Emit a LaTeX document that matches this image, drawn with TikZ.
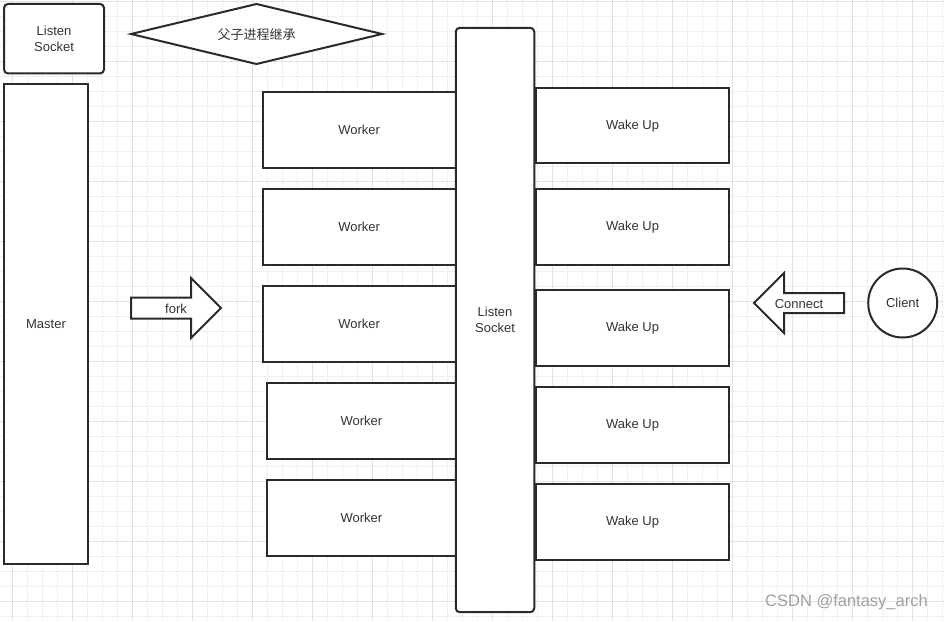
\documentclass[tikz,border=0pt]{standalone}
\usepackage{fontspec}
\setmainfont{Liberation Sans}
\newfontfamily\cjkfont{Noto Sans CJK SC}
\definecolor{lc}{HTML}{2A2A2A}
\definecolor{tc}{HTML}{333333}
\definecolor{gminor}{HTML}{F0F0F0}
\definecolor{gmajor}{HTML}{E2E2E2}
\definecolor{wm}{HTML}{A0A0A0}
\tikzset{
  box/.style={draw=lc, line width=2pt, fill=white, inner sep=0pt, rectangle,
    font=\fontsize{13}{16}\selectfont, text=tc, align=center},
  rbox/.style={box, rounded corners=4pt},
  shapeline/.style={draw=lc, line width=2pt, fill=white, line join=miter},
  lbl/.style={inner sep=0pt, font=\fontsize{13}{16}\selectfont, text=tc, align=center},
}
\begin{document}
\begin{tikzpicture}[x=1pt,y=-1pt]
\useasboundingbox (0,0) rectangle (944,621);
\fill[white] (0,0) rectangle (944,621);
% grid
\foreach \i in {0,...,62} {
  \pgfmathsetmacro{\xx}{12.7+15*\i}
  \draw[gminor, line width=1pt] (\xx,0) -- (\xx,621);
}
\foreach \i in {0,...,41} {
  \pgfmathsetmacro{\yy}{1.3+15*\i}
  \draw[gminor, line width=1pt] (0,\yy) -- (944,\yy);
}
\foreach \i in {0,...,15} {
  \pgfmathsetmacro{\xx}{12.7+60*\i}
  \draw[gmajor, line width=1pt] (\xx,0) -- (\xx,621);
}
\foreach \i in {0,...,10} {
  \pgfmathsetmacro{\yy}{1.3+60*\i}
  \draw[gmajor, line width=1pt] (0,\yy) -- (944,\yy);
}

% top-left listen socket
\node[rbox, minimum width=100pt, minimum height=69.5pt] (ls1) at (54,38.7) {Listen\\Socket};
% diamond
\draw[shapeline] (131,34) -- (256.5,4) -- (382,34) -- (256.5,64) -- cycle;
\node[lbl, font=\cjkfont\fontsize{13}{15}\selectfont] (inh) at (256.5,34.5) {父子进程继承};

% master
\node[box, minimum width=84pt, minimum height=480.3pt] (master) at (46,324.2) {Master};

% fork arrow
\draw[shapeline] (131,297.5) -- (191,297.5) -- (191,278) -- (221,308) -- (191,338) -- (191,318.5) -- (131,318.5) -- cycle;
\node[lbl] (fork) at (176,309) {fork};

% workers
\node[box, minimum width=193pt, minimum height=76pt] (w1) at (359.2,130) {Worker};
\node[box, minimum width=193pt, minimum height=76pt] (w2) at (359.2,226.7) {Worker};
\node[box, minimum width=193pt, minimum height=76pt] (w3) at (359.2,323.7) {Worker};
\node[box, minimum width=188.7pt, minimum height=76.3pt] (w4) at (361.35,420.85) {Worker};
\node[box, minimum width=188.7pt, minimum height=75.7pt] (w5) at (361.35,517.85) {Worker};

% central listen socket
\node[rbox, minimum width=78.5pt, minimum height=584.4pt] (ls2) at (495,320) {Listen\\Socket};

% wake ups
\node[box, minimum width=193.6pt, minimum height=75.3pt] (k1) at (632.5,125.7) {Wake Up};
\node[box, minimum width=193.6pt, minimum height=75.7pt] (k2) at (632.5,227.1) {Wake Up};
\node[box, minimum width=193.6pt, minimum height=75.7pt] (k3) at (632.5,327.9) {Wake Up};
\node[box, minimum width=193.6pt, minimum height=75.7pt] (k4) at (632.5,424.9) {Wake Up};
\node[box, minimum width=193.6pt, minimum height=76pt] (k5) at (632.5,522) {Wake Up};

% connect arrow
\draw[shapeline] (844,293) -- (784,293) -- (784,273) -- (754,303) -- (784,333) -- (784,313) -- (844,313) -- cycle;
\node[lbl] (conn) at (799,304) {Connect};

% client
\node[box, circle, minimum size=69pt] (client) at (902.7,303) {Client};

% watermark
\node[inner sep=0pt, text=wm, font=\fontsize{16.5}{18}\selectfont] (wmark) at (846.5,602.5) {CSDN @fantasy\_arch};
\end{tikzpicture}
\end{document}
